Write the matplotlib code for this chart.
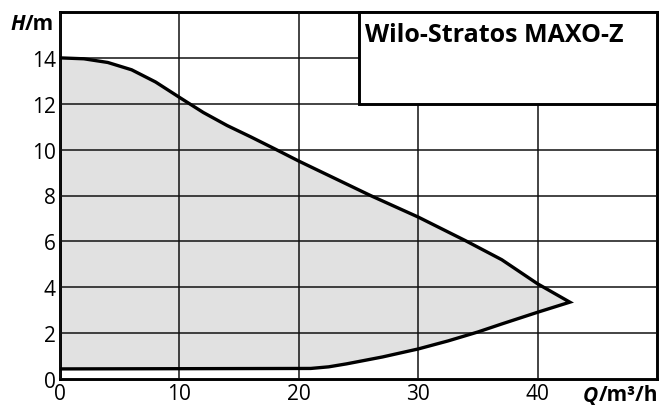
import matplotlib.pyplot as plt
from matplotlib.patches import Rectangle

# Pump curve (upper = max speed, lower = min speed)
q_upper = [0, 2, 4, 6, 8, 10, 12, 14, 16, 18, 20, 23, 26, 30, 34, 37, 40, 42.7]
h_upper = [14.0, 13.96, 13.8, 13.48, 12.95, 12.28, 11.62, 11.05, 10.55, 10.03, 9.5,
           8.75, 8.0, 7.06, 6.02, 5.2, 4.15, 3.35]
q_lower = [42.7, 40, 37, 35, 32.5, 30, 27, 24, 22.5, 21, 0]
h_lower = [3.35, 2.91, 2.4, 2.05, 1.66, 1.31, 0.96, 0.66, 0.53, 0.46, 0.44]

x_ticks = [0, 10, 20, 30, 40]
y_ticks = [0, 2, 4, 6, 8, 10, 12, 14]
title = 'Wilo-Stratos MAXO-Z'

plt.rcParams['font.family'] = ['Open Sans', 'DejaVu Sans']

W, H = 659, 406
fig = plt.figure(figsize=(W / 100, H / 100), dpi=100)
ax = fig.add_axes([60 / W, 1 - 380 / H, 597 / W, 367 / H])

q = q_upper + q_lower
h = h_upper + h_lower
ax.fill(q, h, color='#e1e1e1', zorder=1)
ax.plot(q, h, color='black', lw=2.4, zorder=3, solid_joinstyle='miter')

ax.set_xlim(0, 50)
ax.set_ylim(0, 16)
ax.set_xticks(x_ticks)
ax.set_yticks(y_ticks)
ax.grid(True, color='#111111', lw=1.1, zorder=2)
ax.set_axisbelow(False)
ax.tick_params(length=0, labelsize=15, pad=3)
for s in ax.spines.values():
    s.set_linewidth(2.1)

# title box
ax.add_patch(Rectangle((25, 12), 25, 4, facecolor='white', edgecolor='black',
                       lw=2.1, zorder=4, clip_on=False))
ax.text(25.55, 15.0, title, fontsize=18, fontweight='bold', va='center',
        ha='left', zorder=5)

# axis unit labels (italic quantity + bold unit)
r = fig.canvas.get_renderer()
th = fig.text(10 / W, 1 - 25 / H, 'H', fontsize=15, fontweight='bold', style='italic',
              va='center', ha='left')
bb = th.get_window_extent(r)
fig.text(bb.x1 / W, 1 - 25 / H, '/m', fontsize=15, fontweight='bold', va='center', ha='left')

tu = fig.text(658 / W, 1 - 396 / H, '/m³/h', fontsize=15, fontweight='bold',
              va='center', ha='right')
bb = tu.get_window_extent(r)
fig.text(bb.x0 / W, 1 - 396 / H, 'Q', fontsize=15, fontweight='bold', style='italic',
         va='center', ha='right')

fig.savefig('out.png', dpi=100)
